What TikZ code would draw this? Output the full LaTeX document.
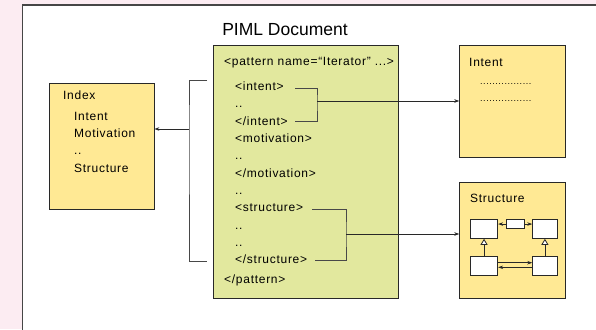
\documentclass[tikz,border=0pt]{standalone}
\usepackage{fontspec}
\setmainfont{Liberation Sans}[LetterSpace=6]
\newfontfamily\titlefont{Liberation Sans}
\usetikzlibrary{arrows.meta}
\definecolor{bgpink}{RGB}{252,236,242}
\definecolor{greenfill}{RGB}{226,232,158}
\definecolor{yellowfill}{RGB}{255,233,148}
\definecolor{edgegray}{RGB}{40,40,40}
\definecolor{panelgray}{RGB}{70,70,70}
\tikzset{
  boxstyle/.style={draw=edgegray, line width=0.9pt, inner sep=0pt, anchor=north west},
  ybox/.style={boxstyle, fill=yellowfill},
  gbox/.style={boxstyle, fill=greenfill},
  wbox/.style={draw=edgegray, line width=0.8pt, fill=white, inner sep=0pt, anchor=north west},
  txt/.style={inner sep=0pt, anchor=west, text height=9pt, text depth=3pt, font=\fontsize{12}{14}\selectfont},
  bracketline/.style={draw=edgegray!85, line width=1pt},
  arrowline/.style={draw=edgegray, line width=0.8pt, -{Stealth[length=5pt,width=3.5pt]}},
  inherit/.style={draw=edgegray, line width=0.8pt, -{Triangle[open,length=6pt,width=7pt,fill=white]}},
}
\begin{document}
\begin{tikzpicture}[x=1pt,y=-1pt]
\useasboundingbox (0,0) rectangle (596,329);
\clip (0,0) rectangle (596,329);
\fill[bgpink] (0,0) rectangle (596,329);
\draw[draw=panelgray, line width=1.6pt, fill=white] (22.5,5) rectangle (620,350);

% title
\node[inner sep=0pt, font=\titlefont\fontsize{17.5}{20}\selectfont] (title) at (285,30) {PIML Document};

% green document box
\node[gbox, minimum width=185pt, minimum height=253pt] (doc) at (213.3,45) {};
\node[txt] (l1) at (224,63) {<pattern name=“Iterator” ...>};
\node[txt] (l2) at (235,87.5) {<intent>};
\node[txt] (l3) at (235,104.8) {..};
\node[txt] (l4) at (235,122) {</intent>};
\node[txt] (l5) at (235,139.5) {<motivation>};
\node[txt] (l6) at (235,156.8) {..};
\node[txt] (l7) at (235,174) {</motivation>};
\node[txt] (l8) at (235,191.3) {..};
\node[txt] (l9) at (235,208.6) {<structure>};
\node[txt] (l10) at (235,226) {..};
\node[txt] (l11) at (235,243.3) {..};
\node[txt] (l12) at (235,260.6) {</structure>};
\node[txt] (l13) at (224,280) {</pattern>};

% index box
\node[ybox, minimum width=105pt, minimum height=126.5pt] (index) at (48.5,82.5) {};
\node[txt] (ix1) at (63,96.5) {Index};
\node[txt] (ix2) at (74,117.5) {Intent};
\node[txt] (ix3) at (74,134.5) {Motivation};
\node[txt] (ix4) at (74,151.5) {..};
\node[txt] (ix5) at (74,169.5) {Structure};

% intent box
\node[ybox, minimum width=105.5pt, minimum height=112pt] (intentbox) at (459.3,45.3) {};
\node[txt] (in1) at (469,63.3) {Intent};
\node[txt, font=\fontsize{9}{10}\selectfont] (in2) at (480,81) {.................};
\node[txt, font=\fontsize{9}{10}\selectfont] (in3) at (480,98.5) {.................};

% structure box
\node[ybox, minimum width=106pt, minimum height=116pt] (structbox) at (459.3,182) {};
\node[txt] (st1) at (470,199) {Structure};
\node[wbox, minimum width=27.3pt, minimum height=19pt] (tl) at (470,219) {};
\node[wbox, minimum width=24.4pt, minimum height=19pt] (tr) at (532.3,219) {};
\node[wbox, minimum width=17.7pt, minimum height=9.3pt] (mid) at (506,219) {};
\node[wbox, minimum width=27.3pt, minimum height=19.3pt] (bl) at (470,255.7) {};
\node[wbox, minimum width=24.4pt, minimum height=19.3pt] (br) at (532.3,255.7) {};
\draw[arrowline] (mid.west) -- (mid.west -| tl.east);
\draw[arrowline] (mid.east) -- (mid.east -| tr.west);
\draw[inherit] (bl.north) -- (bl.north |- tl.south);
\draw[inherit] (br.north) -- (br.north |- tr.south);
\coordinate (bu) at (497.3,262.7);
\coordinate (bd) at (532.3,267.3);
\draw[arrowline] (bu) -- (bu -| br.west);
\draw[arrowline] (bd) -- (bd -| bl.east);

% left bracket
\coordinate (lbt) at (207,80);
\coordinate (lbb) at (207,261);
\coordinate (lbm) at (189,129);
\draw[bracketline] (lbt) -| (lbm) |- (lbb);
\draw[arrowline] (lbm) -- (lbm -| index.east);

% intent bracket
\coordinate (ito) at (295,88);
\coordinate (itc) at (295,121);
\coordinate (itm) at (317,101);
\draw[bracketline] (ito) -| (itm) |- (itc);
\draw[arrowline] (itm) -- (itm -| intentbox.west);

% structure bracket
\coordinate (sto) at (312,209);
\coordinate (stc) at (315,260);
\coordinate (stm) at (346,234);
\draw[bracketline] (sto) -| (stm) |- (stc);
\draw[arrowline] (stm) -- (stm -| structbox.west);
\end{tikzpicture}
\end{document}
